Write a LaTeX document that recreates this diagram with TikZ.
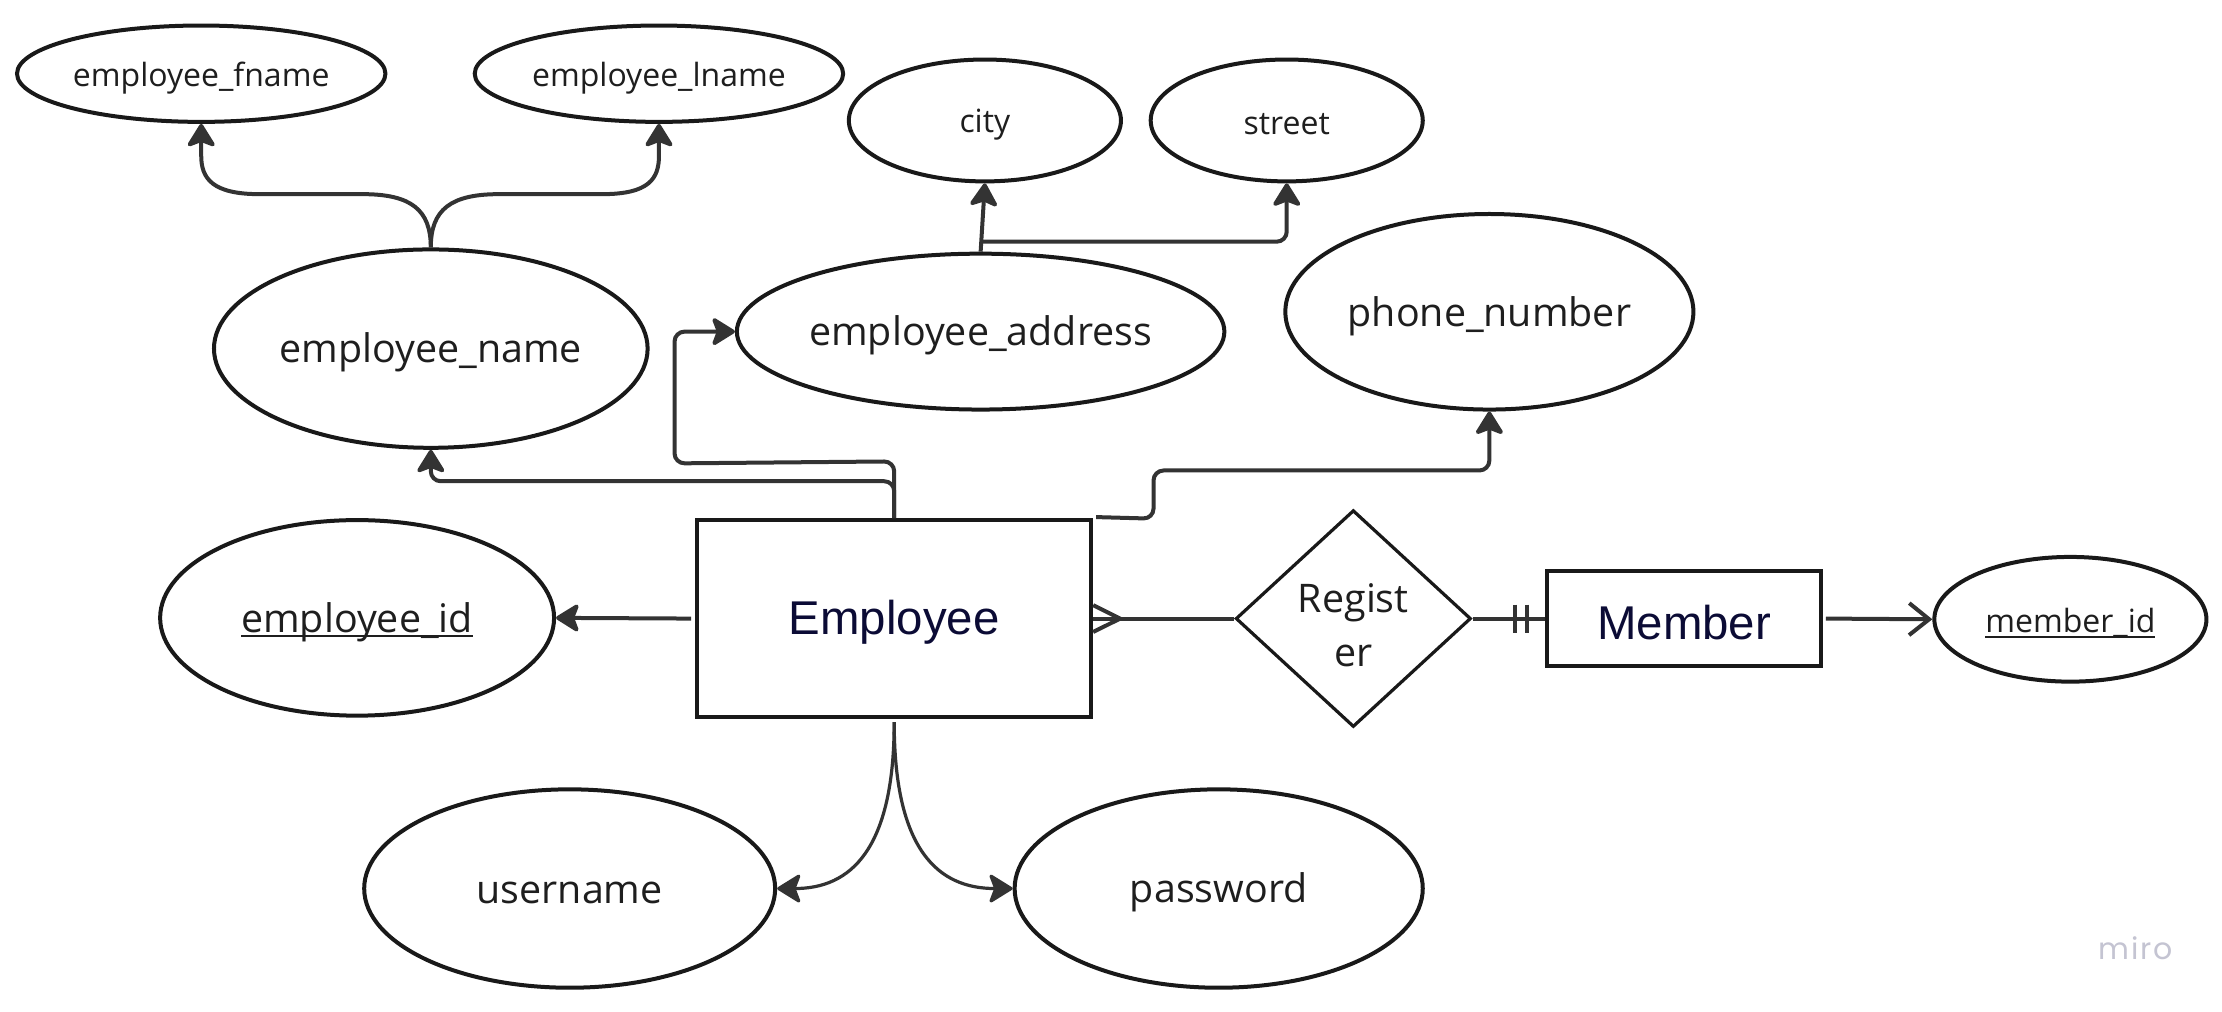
\documentclass[tikz,border=0pt]{standalone}
\usepackage{fontspec}
\setmainfont{Open Sans}
\newfontfamily\entfont{Liberation Sans}
\newfontfamily\mirofont[LetterSpace=6]{Poppins}
\usetikzlibrary{shapes.geometric,arrows.meta}
\def\DPX{0.7085pt}
\definecolor{linec}{HTML}{333333}
\definecolor{entc}{HTML}{0B0B35}
\definecolor{miroc}{HTML}{C4C4D2}
\definecolor{txtc}{HTML}{1E1E1E}
\newcommand\fBig{\fontsize{19.7}{27}\selectfont}
\newcommand\fSmall{\fontsize{16}{19}\selectfont}
\newcommand\fEnt{\fontsize{23.7}{28}\selectfont}
\newsavebox\ulsavebox
\newcommand\ThickUL[2]{\sbox\ulsavebox{#2}\leavevmode\rlap{\rule[-2.6pt]{\wd\ulsavebox}{#1}}\usebox\ulsavebox}
\newcommand\lowtxt[1]{\raisebox{-2pt}[\height][\depth]{#1}}
\begin{document}
\begin{tikzpicture}[x=0.7085pt,y=-0.7085pt,
 attr/.style={ellipse, draw=black!90, line width=2pt, inner sep=0pt, text=txtc},
 entity/.style={rectangle, draw=black!90, line width=2pt, inner sep=0pt, text=entc, font=\entfont\fEnt},
 tip/.style={-{Stealth[length=13pt,width=16pt,inset=3pt,round]}},
 conn/.style={draw=linec, line width=2pt, tip},
 plain/.style={draw=linec, line width=2pt},
]
\fill[white] (0,0) rectangle (1568,714);
\useasboundingbox (0,0) rectangle (1568,714);

% attributes
\node[attr, minimum width=260*\DPX, minimum height=68*\DPX, font=\fSmall] (fname) at (142,52) {\lowtxt{employee\_fname}};
\node[attr, minimum width=260*\DPX, minimum height=68*\DPX, font=\fSmall] (lname) at (465,52) {\lowtxt{employee\_lname}};
\node[attr, minimum width=192*\DPX, minimum height=86*\DPX, font=\fSmall] (city) at (695,85) {\lowtxt{city}};
\node[attr, minimum width=192*\DPX, minimum height=86*\DPX, font=\fSmall] (street) at (908,85) {\lowtxt{street}};
\node[attr, minimum width=306*\DPX, minimum height=140*\DPX, font=\fBig] (ename) at (304,246) {\lowtxt{employee\_name}};
\node[attr, minimum width=344*\DPX, minimum height=110*\DPX, font=\fBig] (eaddr) at (692,234) {\lowtxt{employee\_address}};
\node[attr, minimum width=288*\DPX, minimum height=138*\DPX, font=\fBig] (phone) at (1051,220) {\lowtxt{phone\_number}};
\node[attr, minimum width=278*\DPX, minimum height=138*\DPX, font=\fBig] (eid) at (252,436) {\lowtxt{\ThickUL{1.4pt}{employee\_id}}};
\node[attr, minimum width=290*\DPX, minimum height=140*\DPX, font=\fBig] (user) at (402,627) {\lowtxt{username}};
\node[attr, minimum width=288*\DPX, minimum height=140*\DPX, font=\fBig] (pass) at (860,627) {\lowtxt{password}};
\node[attr, minimum width=192*\DPX, minimum height=88*\DPX, font=\fSmall] (mid) at (1461,437) {\lowtxt{\ThickUL{1.1pt}{member\_id}}};

% entities and relationship
\node[entity, minimum width=278*\DPX, minimum height=139*\DPX] (emp) at (631,436.5) {\lowtxt{Employee}};
\node[entity, minimum width=193*\DPX, minimum height=67*\DPX] (mem) at (1188.5,436.5) {\lowtxt{Member}};
\node[diamond, draw=black!90, line width=1.6pt, inner sep=0pt, minimum width=166*\DPX, minimum height=153*\DPX] (reg) at (955,436.5) {};
\node[align=center, font=\fBig, text=txtc, inner sep=0pt] (regtxt) at (955,441) {Regist\\er};

% connectors
\draw[conn] (ename.north) .. controls (304,148) and (318,137) .. (352,137) -- (425,137) .. controls (458,137) and (465,126) .. (465,110) -- (lname.south);
\draw[conn] (ename.north) .. controls (304,148) and (290,137) .. (256,137) -- (183,137) .. controls (150,137) and (142,126) .. (142,110) -- (fname.south);
\draw[conn, rounded corners=5pt] (emp.north) -- ++(0,-26) -| (ename.south);
\draw[conn, rounded corners=5pt] (emp.north) -- ++(0,-40) -- (476,327) |- (eaddr.west);
\draw[conn, rounded corners=5pt] ([xshift=1.5pt,yshift=0.5pt]emp.north east) -- (814,366) -- (814,332) -| (phone.south);
\draw[conn] (eaddr.north) -- (city.south);
\draw[conn, rounded corners=5pt] ([yshift=5pt]eaddr.north) -| (street.south);
\draw[conn] ([xshift=-2pt]emp.west) -- (eid.east);
\draw[conn, line width=1.6pt] ([yshift=-1.5pt]emp.south) .. controls (631,600) and (600,627) .. (user.east);
\draw[conn, line width=1.6pt] ([yshift=-1.5pt]emp.south) .. controls (631,600) and (662,627) .. (pass.west);

\draw[plain] (emp.east) -- (reg.west);
\draw[plain] ([yshift=6.7pt]emp.east) -- ([xshift=13.5pt]emp.east) -- ([yshift=-6.7pt]emp.east);
\draw[plain] (reg.east) -- (mem.west);
\draw[plain] ([xshift=-15pt,yshift=7pt]mem.west) -- ([xshift=-15pt,yshift=-7pt]mem.west);
\draw[plain] ([xshift=-9pt,yshift=7pt]mem.west) -- ([xshift=-9pt,yshift=-7pt]mem.west);
\draw[plain, -{Straight Barb[length=10pt,width=16pt]}] ([xshift=1.5pt]mem.east) -- (mid.west);

\node[text=miroc, font=\mirofont\fontsize{15}{18}\selectfont, inner sep=0pt] (miro) at (1507,669) {miro};
\end{tikzpicture}
\end{document}
